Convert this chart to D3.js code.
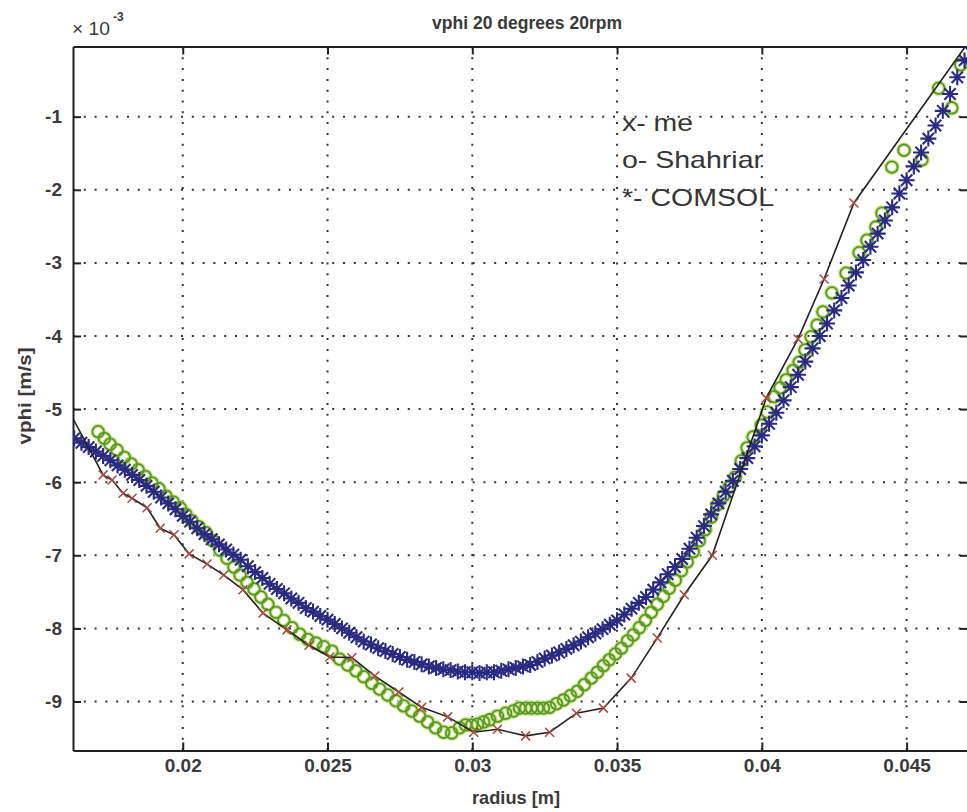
<!DOCTYPE html>
<html lang="en">

<head>
  <meta charset="UTF-8" />
  <title>vphi 20 degrees 20rpm</title>
  <style>
    body {
      margin: 0;
      background: #fff;
    }

    svg text {
      font-family: "Liberation Sans", Arial, sans-serif;
      fill: #262626;
    }

    .grid line {
      stroke: #333;
      stroke-width: 2;
      stroke-dasharray: 2 8.8;
    }

    .axis path,
    .axis line {
      stroke: #222;
      stroke-width: 2;
    }

    .axis text {
      font-size: 19px;
      font-weight: bold;
      fill: #3a3a3a;
    }
  </style>
</head>

<body>
  <svg width="967" height="812"></svg>

  <script src="https://d3js.org/d3.v7.min.js"></script>
  <script>
    // ticks
    const xTicks = [0.02, 0.025, 0.03, 0.035, 0.04, 0.045];
    const xTickLabels = ["0.02", "0.025", "0.03", "0.035", "0.04", "0.045"];
    const yTicks = [-1, -2, -3, -4, -5, -6, -7, -8, -9];
    const yTickLabels = ["-1", "-2", "-3", "-4", "-5", "-6", "-7", "-8", "-9"];

    // "x- me"  (vphi in 1e-3 m/s)
    const meX = [0.01598, 0.01725, 0.01756, 0.01794, 0.01825, 0.01877, 0.01922, 0.01970, 0.02022, 0.02084,
      0.02142, 0.02208, 0.02277, 0.02360, 0.02436, 0.02508, 0.02584, 0.02663, 0.02746, 0.02825,
      0.02915, 0.03005, 0.03087, 0.03184, 0.03267, 0.03360, 0.03453, 0.03549, 0.03639, 0.03732,
      0.03829, 0.04015, 0.04125, 0.04215, 0.04318, 0.04818];
    const meY = [-4.96, -5.90, -5.97, -6.15, -6.22, -6.35, -6.63, -6.72, -6.98, -7.12,
      -7.27, -7.47, -7.79, -8.02, -8.23, -8.39, -8.40, -8.65, -8.87, -9.08,
      -9.21, -9.42, -9.38, -9.47, -9.42, -9.16, -9.09, -8.68, -8.13, -7.54,
      -7.00, -4.85, -4.04, -3.22, -2.18, 0.60];

    // "o- Shahriar"
    const shahX = [0.01708, 0.01729, 0.01749, 0.01773, 0.01798, 0.01822, 0.01846, 0.01870, 0.01894, 0.01918,
      0.01942, 0.01967, 0.01991, 0.02011, 0.02032, 0.02056, 0.02080, 0.02104, 0.02129, 0.02153,
      0.02177, 0.02198, 0.02222, 0.02246, 0.02270, 0.02294, 0.02322, 0.02349, 0.02377, 0.02404,
      0.02432, 0.02460, 0.02487, 0.02515, 0.02542, 0.02570, 0.02598, 0.02625, 0.02653, 0.02680,
      0.02708, 0.02736, 0.02763, 0.02791, 0.02818, 0.02846, 0.02873, 0.02901, 0.02929, 0.02956,
      0.02977, 0.02998, 0.03018, 0.03039, 0.03060, 0.03087, 0.03115, 0.03142, 0.03163, 0.03184,
      0.03204, 0.03225, 0.03246, 0.03267, 0.03291, 0.03315, 0.03339, 0.03363, 0.03387, 0.03411,
      0.03432, 0.03453, 0.03473, 0.03494, 0.03515, 0.03536, 0.03556, 0.03577, 0.03598, 0.03618,
      0.03639, 0.03660, 0.03680, 0.03701, 0.03722, 0.03742, 0.03763, 0.03784, 0.03804, 0.03825,
      0.03846, 0.03867, 0.03887, 0.03908, 0.03929, 0.03949, 0.03970, 0.03998, 0.04018, 0.04043,
      0.04063, 0.04084, 0.04108, 0.04129, 0.04149, 0.04170, 0.04191, 0.04211, 0.04242, 0.04291,
      0.04336, 0.04363, 0.04394, 0.04415, 0.04449, 0.04491, 0.04553, 0.04611, 0.04656, 0.04687];
    const shahY = [-5.31, -5.40, -5.48, -5.56, -5.66, -5.75, -5.83, -5.92, -6.01, -6.09,
      -6.19, -6.27, -6.35, -6.44, -6.53, -6.61, -6.69, -6.80, -6.93, -7.04,
      -7.16, -7.27, -7.37, -7.46, -7.57, -7.67, -7.78, -7.89, -7.99, -8.08,
      -8.15, -8.20, -8.25, -8.31, -8.42, -8.50, -8.58, -8.66, -8.75, -8.83,
      -8.91, -8.99, -9.06, -9.13, -9.20, -9.28, -9.36, -9.42, -9.43, -9.36,
      -9.32, -9.32, -9.31, -9.28, -9.25, -9.20, -9.16, -9.13, -9.09, -9.09,
      -9.09, -9.09, -9.09, -9.08, -9.03, -8.98, -8.92, -8.86, -8.77, -8.68,
      -8.60, -8.51, -8.43, -8.35, -8.27, -8.17, -8.09, -7.99, -7.89, -7.78,
      -7.67, -7.56, -7.45, -7.34, -7.21, -7.09, -6.95, -6.80, -6.65, -6.48,
      -6.31, -6.19, -6.07, -5.93, -5.71, -5.53, -5.38, -5.22, -5.04, -4.83,
      -4.71, -4.60, -4.47, -4.36, -4.19, -4.01, -3.85, -3.67, -3.41, -3.14,
      -2.86, -2.69, -2.51, -2.32, -1.69, -1.46, -1.59, -0.61, -0.88, -0.29];

    // "*- COMSOL"
    const comsolX = [0.01625, 0.0165, 0.01675, 0.017, 0.01725, 0.0175, 0.01775, 0.018, 0.01825, 0.0185,
      0.01875, 0.019, 0.01925, 0.0195, 0.01975, 0.02, 0.02025, 0.0205, 0.02075, 0.021,
      0.02125, 0.0215, 0.02175, 0.022, 0.02225, 0.0225, 0.02275, 0.023, 0.02325, 0.0235,
      0.02375, 0.024, 0.02425, 0.0245, 0.02475, 0.025, 0.02525, 0.0255, 0.02575, 0.026,
      0.02625, 0.0265, 0.02675, 0.027, 0.02725, 0.0275, 0.02775, 0.028, 0.02825, 0.0285,
      0.02875, 0.029, 0.02925, 0.0295, 0.02975, 0.03, 0.03025, 0.0305, 0.03075, 0.031,
      0.03125, 0.0315, 0.03175, 0.032, 0.03225, 0.0325, 0.03275, 0.033, 0.03325, 0.0335,
      0.03375, 0.034, 0.03425, 0.0345, 0.03475, 0.035, 0.03525, 0.0355, 0.03575, 0.036,
      0.03625, 0.0365, 0.03675, 0.037, 0.03725, 0.0375, 0.03775, 0.038, 0.03825, 0.0385,
      0.03875, 0.039, 0.03925, 0.0395, 0.03975, 0.04, 0.04025, 0.0405, 0.04075, 0.041,
      0.04125, 0.0415, 0.04175, 0.042, 0.04225, 0.0425, 0.04275, 0.043, 0.04325, 0.0435,
      0.04375, 0.044, 0.04425, 0.0445, 0.04475, 0.045, 0.04525, 0.0455, 0.04575, 0.046,
      0.04625, 0.0465, 0.04675, 0.047, 0.04725];
    const comsolY = [-5.40, -5.46, -5.52, -5.58, -5.64, -5.70, -5.77, -5.83, -5.90, -5.97,
      -6.05, -6.13, -6.21, -6.29, -6.37, -6.46, -6.54, -6.63, -6.71, -6.78,
      -6.85, -6.92, -6.99, -7.06, -7.15, -7.23, -7.31, -7.39, -7.46, -7.52,
      -7.59, -7.65, -7.72, -7.77, -7.83, -7.88, -7.94, -8.00, -8.06, -8.12,
      -8.18, -8.22, -8.27, -8.31, -8.35, -8.39, -8.43, -8.46, -8.49, -8.52,
      -8.54, -8.56, -8.57, -8.59, -8.60, -8.60, -8.61, -8.60, -8.60, -8.58,
      -8.56, -8.54, -8.52, -8.50, -8.46, -8.41, -8.37, -8.33, -8.28, -8.23,
      -8.18, -8.12, -8.07, -8.01, -7.95, -7.89, -7.81, -7.73, -7.65, -7.57,
      -7.47, -7.37, -7.26, -7.16, -7.05, -6.91, -6.76, -6.60, -6.44, -6.29,
      -6.13, -5.98, -5.82, -5.67, -5.51, -5.36, -5.20, -5.05, -4.88, -4.70,
      -4.53, -4.35, -4.17, -4.00, -3.83, -3.65, -3.48, -3.31, -3.13, -2.96,
      -2.78, -2.60, -2.42, -2.24, -2.05, -1.87, -1.68, -1.49, -1.30, -1.12,
      -0.92, -0.69, -0.46, -0.23, 0.00];

    const legendLines = ["x- me", "o- Shahriar", "*- COMSOL"];

    const svg = d3.select("svg");
    svg.append("rect").attr("width", 967).attr("height", 812).attr("fill", "#fff");

    const plotLeft = 73, plotRight = 968, plotTop = 46.5, plotBottom = 750.5;

    const x = d3.scaleLinear().domain([0.01621, 0.04712]).range([plotLeft, plotRight]);
    const y = d3.scaleLinear().domain([-9.67, -0.04]).range([plotBottom, plotTop]);

    svg.append("clipPath").attr("id", "plotArea")
      .append("rect")
      .attr("x", plotLeft).attr("y", plotTop)
      .attr("width", plotRight - plotLeft).attr("height", plotBottom - plotTop);

    // dotted grid
    const grid = svg.append("g").attr("class", "grid");
    grid.selectAll(".vx").data(xTicks).enter().append("line")
      .attr("x1", d => x(d)).attr("x2", d => x(d))
      .attr("y1", plotTop).attr("y2", plotBottom);
    grid.selectAll(".hy").data(yTicks).enter().append("line")
      .attr("x1", plotLeft).attr("x2", plotRight)
      .attr("y1", d => y(d)).attr("y2", d => y(d));

    // axes, ticks pointing inward like matlab
    svg.append("g").attr("class", "axis")
      .attr("transform", `translate(0,${plotBottom})`)
      .call(d3.axisBottom(x).tickValues(xTicks).tickSizeInner(-8).tickSizeOuter(0).tickPadding(8)
        .tickFormat((d, i) => xTickLabels[i]));
    svg.append("g").attr("class", "axis")
      .attr("transform", `translate(0,${plotTop})`)
      .call(d3.axisTop(x).tickValues(xTicks).tickSizeInner(-8).tickSizeOuter(0).tickFormat(""));
    svg.append("g").attr("class", "axis")
      .attr("transform", `translate(${plotLeft},0)`)
      .call(d3.axisLeft(y).tickValues(yTicks).tickSizeInner(-8).tickSizeOuter(0).tickPadding(11)
        .tickFormat((d, i) => yTickLabels[i]));
    svg.append("g").attr("class", "axis")
      .attr("transform", `translate(${plotRight},0)`)
      .call(d3.axisRight(y).tickValues(yTicks).tickSizeInner(-8).tickSizeOuter(0).tickFormat(""));

    svg.selectAll(".axis .domain").attr("stroke", "#222").attr("stroke-width", 2);

    const plot = svg.append("g").attr("clip-path", "url(#plotArea)");

    // Shahriar circles (light halo + green ring)
    const shah = d3.zip(shahX, shahY);
    plot.append("g").selectAll("circle").data(shah).enter().append("circle")
      .attr("cx", d => x(d[0])).attr("cy", d => y(d[1])).attr("r", 5.8)
      .attr("fill", "none").attr("stroke", "#cfe58a").attr("stroke-width", 4.2);
    plot.append("g").selectAll("circle").data(shah).enter().append("circle")
      .attr("cx", d => x(d[0])).attr("cy", d => y(d[1])).attr("r", 5.8)
      .attr("fill", "none").attr("stroke", "#56982a").attr("stroke-width", 1.8);

    // COMSOL asterisks
    const ra = 8, rd = 5.7;
    const asterisk = `M${-ra},0H${ra}M0,${-ra}V${ra}M${-rd},${-rd}L${rd},${rd}M${-rd},${rd}L${rd},${-rd}`;
    plot.append("g").selectAll("path").data(d3.zip(comsolX, comsolY)).enter().append("path")
      .attr("transform", d => `translate(${x(d[0])},${y(d[1])})`)
      .attr("d", asterisk)
      .attr("fill", "none").attr("stroke", "#2a2a82").attr("stroke-width", 2.1);

    // me: line + x markers
    const me = d3.zip(meX, meY);
    plot.append("path").datum(me)
      .attr("d", d3.line().x(d => x(d[0])).y(d => y(d[1])))
      .attr("fill", "none").attr("stroke", "#222").attr("stroke-width", 1.6);
    const rx = 4.5;
    plot.append("g").selectAll("path").data(me).enter().append("path")
      .attr("transform", d => `translate(${x(d[0])},${y(d[1])})`)
      .attr("d", `M${-rx},${-rx}L${rx},${rx}M${-rx},${rx}L${rx},${-rx}`)
      .attr("fill", "none").attr("stroke", "#a44a3f").attr("stroke-width", 1.5);

    // annotation text in the plot
    const legendLen = [71, 141, 152];
    svg.append("g").selectAll("text").data(legendLines).enter().append("text")
      .attr("x", 622).attr("y", (d, i) => 130.5 + i * 37.5)
      .attr("font-size", 24)
      .attr("textLength", (d, i) => legendLen[i]).attr("lengthAdjust", "spacingAndGlyphs")
      .style("fill", "#353535")
      .text(d => d);

    // title, labels, exponent
    svg.append("text").attr("x", 527).attr("y", 29).attr("text-anchor", "middle")
      .attr("font-size", 18).attr("font-weight", "bold").attr("textLength", 190).attr("lengthAdjust", "spacingAndGlyphs")
      .style("fill", "#3a3a3a")
      .text("vphi 20 degrees 20rpm");
    svg.append("text").attr("x", 516).attr("y", 804).attr("text-anchor", "middle")
      .attr("font-size", 19).attr("font-weight", "bold").attr("textLength", 88).attr("lengthAdjust", "spacingAndGlyphs")
      .style("fill", "#3a3a3a")
      .text("radius [m]");
    svg.append("text").attr("transform", "translate(31,396) rotate(-90)").attr("text-anchor", "middle")
      .attr("font-size", 19).attr("font-weight", "bold").attr("textLength", 97).attr("lengthAdjust", "spacingAndGlyphs")
      .style("fill", "#3a3a3a")
      .text("vphi [m/s]");
    svg.append("text").attr("x", 72).attr("y", 35)
      .attr("font-size", 18).attr("textLength", 38).attr("lengthAdjust", "spacingAndGlyphs")
      .style("fill", "#3a3a3a")
      .text("× 10");
    svg.append("text").attr("x", 113).attr("y", 21)
      .attr("font-size", 12).attr("font-weight", "bold")
      .style("fill", "#3a3a3a")
      .text("-3");
  </script>
</body>

</html>
